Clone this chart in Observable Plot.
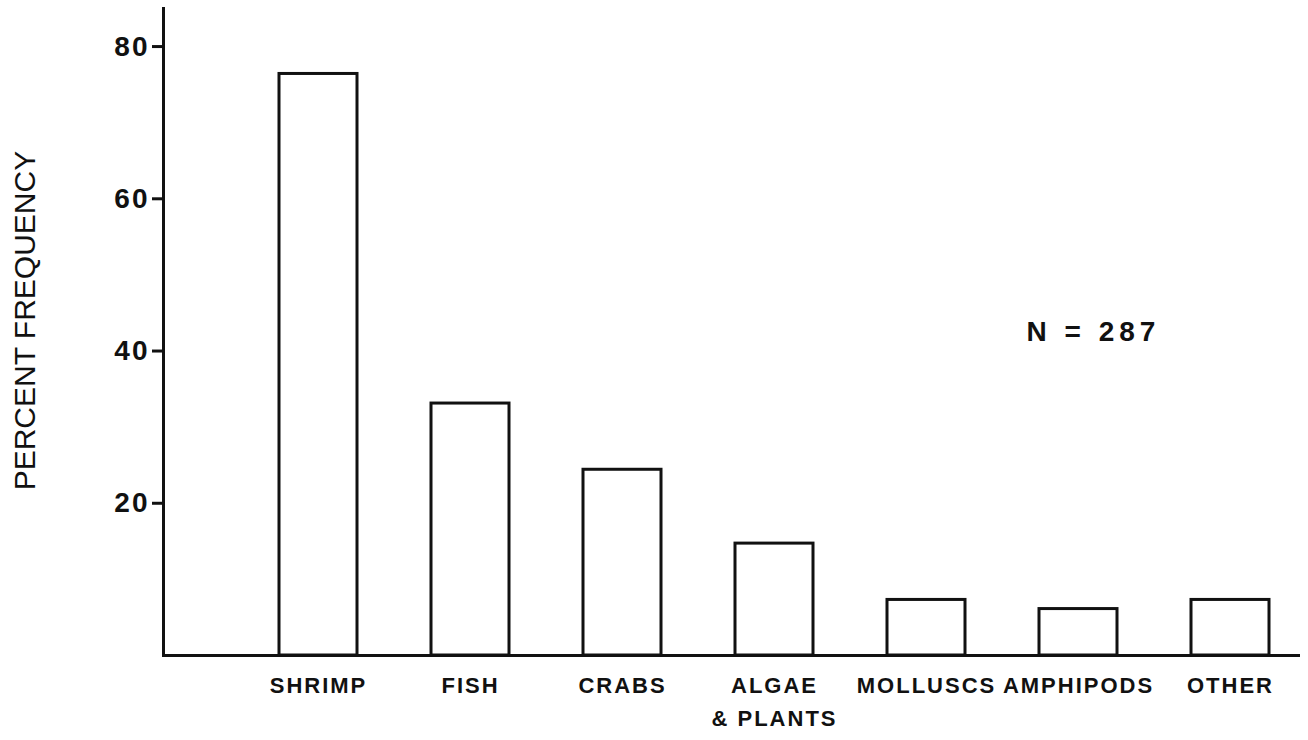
<!DOCTYPE html>
<html>
<head>
<meta charset="utf-8">
<script src="https://cdn.jsdelivr.net/npm/d3@7"></script>
<script src="https://cdn.jsdelivr.net/npm/@observablehq/plot@0.6"></script>
<style>
  html, body { margin: 0; padding: 0; background: #fff; }
  #chart svg { font-family: "Liberation Sans", Arial, sans-serif; }
  #chart g[aria-label="x-axis tick label"] text { letter-spacing: 2px; }
  #chart g[aria-label="y-axis tick label"] text { letter-spacing: 2px; }
</style>
</head>
<body>
<div id="chart"></div>
<script>
// Data
const categories = ["SHRIMP", "FISH", "CRABS", "ALGAE\n& PLANTS", "MOLLUSCS", "AMPHIPODS", "OTHER"];
const percents = [76.4, 33.1, 24.4, 14.7, 7.3, 6.1, 7.3];
const yTicks = [20, 40, 60, 80];
const yLabel = "PERCENT FREQUENCY";
const annotationText = ["N = 287"];
const annotationCategory = ["AMPHIPODS"];
const annotationValue = [42.5];
const yLabelValue = [44];

const data = categories.map((c, i) => ({category: c, value: percents[i]}));
const notes = annotationText.map((t, i) => ({text: t, category: annotationCategory[i], value: annotationValue[i]}));

const chart = Plot.plot({
  width: 1308,
  height: 740,
  marginLeft: 163,
  marginRight: 8,
  marginTop: 8,
  marginBottom: 85,
  style: {fontFamily: "Liberation Sans, Arial, sans-serif", color: "#111", background: "#fff"},
  x: {domain: categories, range: [241, 1306], paddingInner: 0.49, paddingOuter: 0.245},
  y: {domain: [0, 85]},
  marks: [
    Plot.axisY({ticks: yTicks, tickSize: 11, tickPadding: 3, fontSize: 28, fontWeight: "bold", label: null, strokeWidth: 3}),
    Plot.axisX({tickSize: 0, tickPadding: 14, fontSize: 22, fontWeight: "bold", lineHeight: 1.5, label: null}),
    Plot.barY(data, {x: "category", y: "value", fill: "white", stroke: "#111", strokeWidth: 3}),
    Plot.ruleY([0], {stroke: "#111", strokeWidth: 3}),
    Plot.frame({anchor: "left", stroke: "#111", strokeWidth: 3}),
    Plot.text([yLabel], {y: yLabelValue, frameAnchor: "left", textAnchor: "middle", rotate: -90, dx: -138, fontSize: 30, fill: "#111"}),
    Plot.text(notes, {x: "category", y: "value", text: "text", dx: 15, fontSize: 28, fontWeight: "bold", fill: "#111"})
  ]
});
d3.select(chart).selectAll("text").filter(function() { return annotationText.includes(this.textContent); })
  .style("letter-spacing", "5px");
document.getElementById("chart").appendChild(chart);
</script>
</body>
</html>
